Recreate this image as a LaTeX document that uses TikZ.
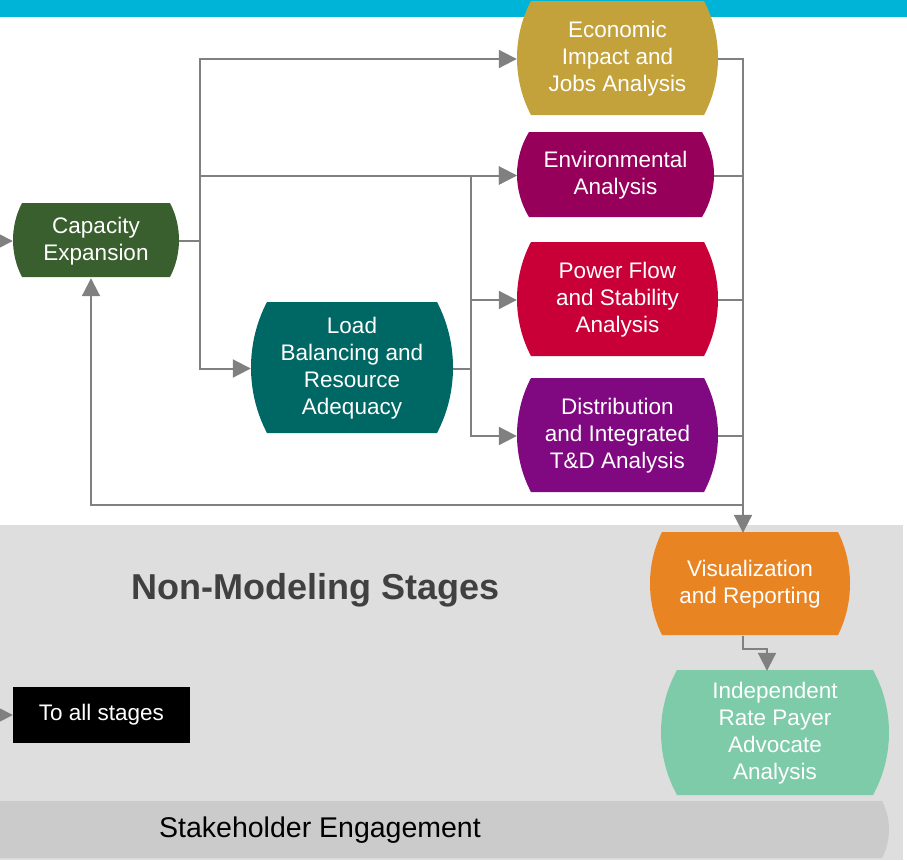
\documentclass[tikz,border=0pt]{standalone}
\usepackage{fontspec}
\setmainfont{Liberation Sans}
\usetikzlibrary{arrows.meta,calc}
\definecolor{topbar}{RGB}{0,180,216}
\definecolor{bgA}{RGB}{222,222,222}
\definecolor{bgB}{RGB}{203,203,203}
\definecolor{lnc}{RGB}{128,128,128}
\definecolor{cCE}{RGB}{58,95,46}
\definecolor{cEI}{RGB}{195,162,60}
\definecolor{cEN}{RGB}{150,0,90}
\definecolor{cPF}{RGB}{200,0,55}
\definecolor{cDI}{RGB}{128,8,128}
\definecolor{cLB}{RGB}{0,104,100}
\definecolor{cVR}{RGB}{233,132,35}
\definecolor{cIR}{RGB}{126,203,169}
\definecolor{darktext}{RGB}{64,64,64}
\tikzset{
  stagetext/.style={text=white, align=center, inner sep=0pt,
    font=\fontsize{22.5}{27}\selectfont},
  ln/.style={draw=lnc, line width=2pt},
  arr/.style={ln, -{Triangle[length=18pt,width=18pt]}},
}
% #1 name, #2 cx, #3 cy, #4 w, #5 h, #6 bulge, #7 colour, #8 text
\newcommand\barrelnode[8]{%
  \fill[#7] ({#2-#4/2+#6},{#3-#5/2}) -- ({#2+#4/2-#6},{#3-#5/2})
    .. controls ({#2+#4/2+#6/3},{#3-#5/2+0.31*#5}) and ({#2+#4/2+#6/3},{#3+#5/2-0.31*#5}) .. ({#2+#4/2-#6},{#3+#5/2})
    -- ({#2-#4/2+#6},{#3+#5/2})
    .. controls ({#2-#4/2-#6/3},{#3+#5/2-0.31*#5}) and ({#2-#4/2-#6/3},{#3-#5/2+0.31*#5}) .. ({#2-#4/2+#6},{#3-#5/2}) -- cycle;
  \node[stagetext, minimum width=#4, minimum height=#5] (#1) at (#2,{#3+1}) {#8};
}
\begin{document}
\begin{tikzpicture}[x=1pt,y=-1pt]
\useasboundingbox (0,0) rectangle (907,860);
\clip (0,0) rectangle (907,860);
% backgrounds
\fill[topbar] (0,0) rectangle (907,17);
\fill[bgA] (0,525) rectangle (903,860);
\fill[bgB] (0,801) -- (882,801) .. controls (891.3,818.5) and (891.3,840.5) .. (882,858) -- (0,858) -- cycle;
\node[font=\fontsize{36}{40}\selectfont\bfseries, text=darktext, inner sep=0pt] (NM) at (315.5,590) {Non-Modeling Stages};
\node[font=\fontsize{28.5}{32}\selectfont, text=black, inner sep=0pt] (SE) at (320,830) {Stakeholder Engagement};
% stages
\barrelnode{CE}{96}{240}{166}{74}{9}{cCE}{Capacity\\Expansion}
\barrelnode{EI}{617.5}{58}{201}{114}{14}{cEI}{Economic\\Impact and\\Jobs Analysis}
\barrelnode{EN}{615.5}{174.5}{197}{85}{12}{cEN}{Environmental\\Analysis}
\barrelnode{PF}{617.5}{299}{201}{114}{14}{cPF}{Power Flow\\and Stability\\Analysis}
\barrelnode{DI}{617.5}{435}{201}{114}{14}{cDI}{Distribution\\and Integrated\\T\&D Analysis}
\barrelnode{LB}{352}{367.5}{202}{131}{16}{cLB}{Load\\Balancing and\\Resource\\Adequacy}
\barrelnode{VR}{750}{583.5}{200}{103}{12}{cVR}{Visualization\\and Reporting}
\barrelnode{IR}{775}{732.5}{228}{125}{16}{cIR}{Independent\\Rate Payer\\Advocate\\Analysis}
\node[fill=black, text=white, minimum width=177, minimum height=56, inner sep=0pt,
  font=\fontsize{22.5}{27}\selectfont] (TA) at (101.5,715) {To all stages};
% junction coordinates
\coordinate (j1) at ([xshift=21pt]CE.east);
\coordinate (j2) at ([xshift=18pt]LB.east);
\coordinate (bus) at (743,0);
\coordinate (fb) at (743,505);
\coordinate (in1) at ([xshift=-25pt]CE.west);
\coordinate (in2) at ([xshift=-25pt]TA.west);
% connectors
\draw[arr] (in1) -- (CE.west);
\draw[arr] (in2) -- (TA.west);
\draw[arr] (CE.east) -- (j1) |- (EI.west);
\draw[arr] (CE.east) -- (j1) |- (EN.west);
\draw[arr] (CE.east) -- (j1) |- (LB.west);
\draw[arr] (LB.east) -- (j2) |- (EN.west);
\draw[arr] (LB.east) -- (j2) |- (PF.west);
\draw[arr] (LB.east) -- (j2) |- (DI.west);
\draw[ln] (EN.east) -- (EN.east -| bus);
\draw[ln] (PF.east) -- (PF.east -| bus);
\draw[ln] (DI.east) -- (DI.east -| bus);
\draw[arr] (EI.east) -| ([xshift=-7pt]VR.north);
\draw[arr] (fb) -| ([xshift=-5pt]CE.south);
\draw[arr] ([xshift=-7pt]VR.south) -- ++(0,13) -| ([xshift=-8pt]IR.north);
\end{tikzpicture}
\end{document}
